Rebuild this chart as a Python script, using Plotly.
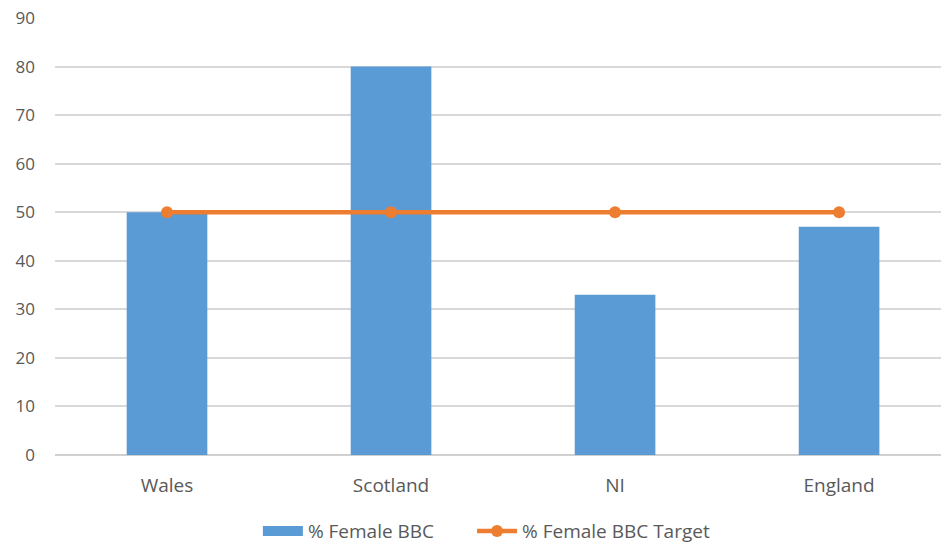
import plotly.graph_objects as go

categories = ["Wales", "Scotland", "NI", "England"]
female_bbc = [50, 80, 33, 47]
female_target = [50, 50, 50, 50]
y_ticks = [0, 10, 20, 30, 40, 50, 60, 70, 80, 90]

BLUE = "#5B9BD5"
ORANGE = "#ED7D31"
GREY = "#595959"

fig = go.Figure()
fig.add_trace(go.Bar(
    x=[0, 1, 2, 3], y=female_bbc, name="% Female BBC", showlegend=False,
    marker=dict(color=BLUE, line=dict(width=0)), width=0.36,
))
# legend proxy for the bar series (wide rectangle swatch)
fig.add_trace(go.Scatter(
    x=[None], y=[None], name="% Female BBC", mode="lines",
    line=dict(color=BLUE, width=11), showlegend=True, legend="legend",
))
fig.add_trace(go.Scatter(
    x=[0, 1, 2, 3], y=female_target, name="% Female BBC Target",
    mode="lines+markers",
    line=dict(color=ORANGE, width=4.5),
    marker=dict(color=ORANGE, size=12),
    legend="legend2",
))

fam = "Open Sans, Liberation Sans, sans-serif"
leg_common = dict(orientation="h", y=-0.174, yanchor="middle", xanchor="left",
                  font=dict(family=fam, size=19, color=GREY), itemwidth=40,
                  bgcolor="rgba(0,0,0,0)")
fig.update_layout(
    width=941, height=545,
    margin=dict(l=55, r=0, t=18, b=90, autoexpand=False),
    paper_bgcolor="white", plot_bgcolor="white",
    font=dict(family=fam, size=19, color=GREY),
    showlegend=True,
    legend=dict(x=0.229, **leg_common),
    legend2=dict(x=0.4707, **leg_common),
    xaxis=dict(
        range=[-0.5, 3.455], tickmode="array", tickvals=[0, 1, 2, 3], ticktext=categories,
        showgrid=False, zeroline=False, showline=False, ticks="", ticklabelstandoff=17,
        tickfont=dict(family=fam, size=19, color=GREY),
    ),
    yaxis=dict(
        range=[0, 90], tickmode="array", tickvals=y_ticks,
        showgrid=True, gridcolor="#D9D9D9", gridwidth=1.5,
        zeroline=True, zerolinecolor="#D0D0D0", zerolinewidth=1.5,
        showline=False, ticks="", ticklabelstandoff=19,
        tickfont=dict(family=fam, size=17, color=GREY),
    ),
)
fig.write_html("out.html")
